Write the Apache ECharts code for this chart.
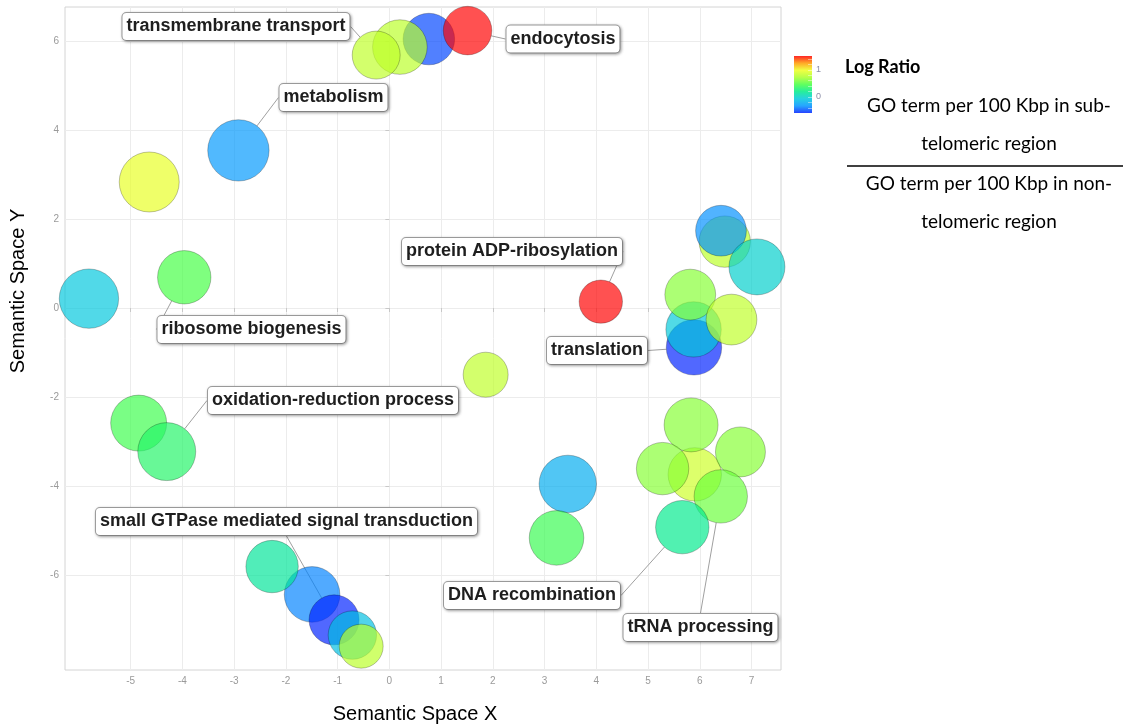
<!DOCTYPE html>
<html><head><meta charset="utf-8">
<script src="https://cdn.jsdelivr.net/npm/echarts@6/dist/echarts.min.js"></script>
<style>html,body{margin:0;padding:0;background:#fff}#c{width:1126px;height:727px}</style>
</head><body><div id="c"></div>
<script>
// ---- data, in drawing order ----
const termNames = [
  '', '', 'transmembrane transport', 'endocytosis',
  'metabolism', '', '', 'ribosome biogenesis', '', 'oxidation-reduction process',
  'protein ADP-ribosylation', '', '', '',
  '', '', 'small GTPase mediated signal transduction', '', '',
  '', '', '',
  'translation', '', '', '',
  '', '', '', '', 'tRNA processing', 'DNA recombination'
];
const semX = [
  0.763, 0.203, -0.255, 1.511,
  -2.918, -4.642, -5.807, -3.965, -4.846, -4.303,
  4.087, 1.861, 3.449, 3.231,
  -1.494, -2.267, -1.069, -0.715, -0.545,
  6.483, 6.410, 7.105,
  5.888, 5.880, 5.816, 6.613,
  5.903, 5.832, 6.786, 5.281, 6.406, 5.662
];
const semY = [
  6.04, 5.86, 5.68, 6.23,
  3.54, 2.83, 0.21, 0.69, -2.585, -3.225,
  0.144, -1.498, -3.95, -5.163,
  -6.432, -5.807, -7.004, -7.346, -7.595,
  1.491, 1.736, 0.923,
  -0.885, -0.481, 0.301, -0.26,
  -3.737, -2.625, -3.232, -3.607, -4.231, -4.922
];
const logRatio = [
  -0.52, 0.78, 0.80, 1.50,
  -0.32, 0.95, -0.08, 0.45, 0.42, 0.32,
  1.50, 0.80, -0.22, 0.40,
  -0.38, 0.14, -0.60, -0.12, 0.78,
  0.78, -0.35, -0.02,
  -0.60, -0.07, 0.62, 0.80,
  0.85, 0.62, 0.62, 0.62, 0.55, 0.18
];
const termSize = [
  2.58, 2.73, 2.40, 2.43,
  3.07, 3.00, 2.97, 2.67, 2.80, 2.90,
  2.17, 2.25, 2.87, 2.73,
  2.78, 2.62, 2.50, 2.42, 2.20,
  2.57, 2.54, 2.80,
  2.77, 2.77, 2.54, 2.54,
  2.67, 2.70, 2.50, 2.62, 2.67, 2.67
];
const xTicks = [-5, -4, -3, -2, -1, 0, 1, 2, 3, 4, 5, 6, 7];
const yTicks = [-6, -4, -2, 0, 2, 4, 6];
const colorTicks = [0, 1];
const ratioMin = -0.6, ratioMax = 1.5;

// ---- layout / style ----
const palette = ['#0022ff', '#0095ff', '#00c8dc', '#00eb8a', '#44ff44', '#a8ff2a', '#eeff22', '#ff9a00', '#ff0000'];
const fillAlpha = 0.85;
const labelCenters = {
  'transmembrane transport': [236, 26.5],
  'endocytosis': [563, 39],
  'metabolism': [333.5, 97.5],
  'ribosome biogenesis': [251.5, 329.5],
  'protein ADP-ribosylation': [512, 251.5],
  'translation': [597, 350.5],
  'oxidation-reduction process': [333, 400.5],
  'small GTPase mediated signal transduction': [286.5, 521.5],
  'DNA recombination': [532, 595.5],
  'tRNA processing': [700.5, 627.5]
};
const bar = { x: 794, y: 56, w: 18, h: 57 };

const data = semX.map((x, i) => ({
  name: termNames[i],
  value: [x, semY[i], logRatio[i], termSize[i]],
  label: { show: termNames[i] !== '' },
  labelLine: { show: termNames[i] !== '' }
}));

const chart = echarts.init(document.getElementById('c'), null, { renderer: 'canvas' });

function barY(v) { return bar.y + bar.h - (v - ratioMin) / (ratioMax - ratioMin) * bar.h; }

const graphics = [];
graphics.push({
  type: 'rect', shape: { x: bar.x, y: bar.y, width: bar.w, height: bar.h },
  style: {
    fill: new echarts.graphic.LinearGradient(0, 1, 0, 0,
      palette.map((c, i) => ({ offset: i / (palette.length - 1), color: c }))),
    opacity: fillAlpha
  }, silent: true
});
for (let v = -0.4; v <= 1.41; v += 0.2) {
  const yy = Math.round(barY(v)) + 0.5;
  graphics.push({ type: 'line', shape: { x1: bar.x + bar.w - 4, y1: yy, x2: bar.x + bar.w, y2: yy },
    style: { stroke: 'rgba(255,255,255,0.45)', lineWidth: 1 }, silent: true });
}
colorTicks.forEach(v => {
  graphics.push({ type: 'text', x: bar.x + bar.w + 4, y: barY(v),
    style: { text: String(v), fill: '#8c8fa8', font: '9px "Liberation Sans", Arial', textVerticalAlign: 'middle' }, silent: true });
});
const legFont = '"Lato", "Open Sans", sans-serif';
graphics.push({ type: 'text', x: 845, y: 67, style: { text: 'Log Ratio', fill: '#000', font: 'bold 18px ' + legFont, textVerticalAlign: 'middle' } });
[['GO term per 100 Kbp in sub-', 106], ['telomeric region', 144], ['GO term per 100 Kbp in non-', 184], ['telomeric region', 222]].forEach(t => {
  graphics.push({ type: 'text', x: 989, y: t[1], style: { text: t[0], fill: '#000', font: '19px ' + legFont, textAlign: 'center', textVerticalAlign: 'middle' } });
});
graphics.push({ type: 'line', shape: { x1: 847, y1: 166, x2: 1123, y2: 166 }, style: { stroke: '#000', lineWidth: 1.5 } });
graphics.push({ type: 'text', x: 415, y: 714, style: { text: 'Semantic Space X', fill: '#000', font: '20px "Liberation Sans", Arial', textAlign: 'center', textVerticalAlign: 'middle' } });
graphics.push({ type: 'text', x: 18, y: 291, rotation: Math.PI / 2, style: { text: 'Semantic Space Y', fill: '#000', font: '20px "Liberation Sans", Arial', textAlign: 'center', textVerticalAlign: 'middle' } });

chart.setOption({
  animation: false,
  backgroundColor: '#fff',
  grid: { left: 65, top: 7, width: 716, height: 663, show: true, borderColor: '#d4d4d4', borderWidth: 1, backgroundColor: '#fff' },
  xAxis: {
    type: 'value', min: -6.27, max: 7.57,
    axisLine: { show: false },
    axisTick: { show: true, customValues: xTicks, length: 4, lineStyle: { color: '#c8c8c8' } },
    axisLabel: { customValues: xTicks, color: '#9a9a9a', fontSize: 10, margin: 6, fontFamily: 'Liberation Sans' },
    splitLine: { show: true, lineStyle: { color: '#ececec', width: 1 } }
  },
  yAxis: {
    type: 'value', min: -8.13, max: 6.76,
    axisLine: { show: false },
    axisTick: { show: true, customValues: yTicks, length: 4, lineStyle: { color: '#c8c8c8' } },
    axisLabel: { customValues: yTicks, color: '#9a9a9a', fontSize: 10, margin: 6, fontFamily: 'Liberation Sans' },
    splitLine: { show: true, lineStyle: { color: '#ececec', width: 1 } }
  },
  visualMap: {
    type: 'continuous', show: false, dimension: 2, seriesIndex: 0,
    min: ratioMin, max: ratioMax, inRange: { color: palette, colorAlpha: fillAlpha }
  },
  graphic: graphics,
  series: [{
    type: 'scatter',
    data: data,
    symbolSize: v => v[3] * 20,
    itemStyle: { borderColor: 'rgba(0,0,0,0.3)', borderWidth: 1 },
    emphasis: { disabled: true },
    label: {
      show: false, formatter: '{b}', fontFamily: '"Liberation Sans", Arial', fontWeight: 'bold', fontSize: 18,
      lineHeight: 20, color: '#1e1e1e', opacity: 1, backgroundColor: '#ffffff', borderColor: '#a0a0a0', borderWidth: 1,
      borderRadius: 4, padding: [4, 4, 3, 4],
      shadowColor: 'rgba(0,0,0,0.3)', shadowBlur: 3, shadowOffsetX: 1, shadowOffsetY: 1
    },
    labelLine: { show: true, lineStyle: { color: '#a0a0a0', width: 1, opacity: 1 } },
    labelLayout: function (p) {
      const c = labelCenters[termNames[p.dataIndex]];
      if (!c) return {};
      return { x: c[0], y: c[1], align: 'center', verticalAlign: 'middle' };
    }
  }]
});
</script>
</body></html>
